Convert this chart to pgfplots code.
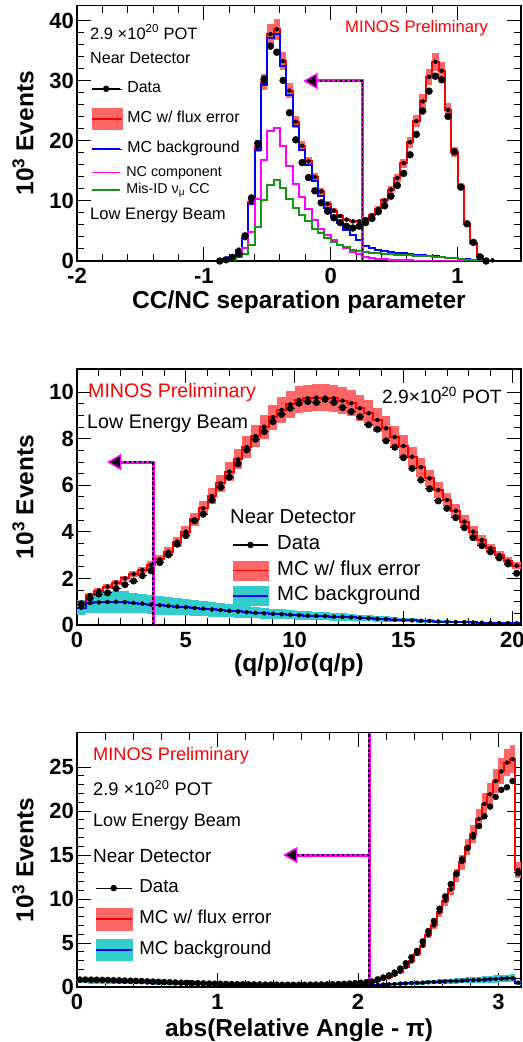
\documentclass[border=0pt]{standalone}
\usepackage{pgfplots}
\pgfplotsset{compat=1.18}
\usepackage{pgfplotstable}
\usepackage{fontspec}
\setmainfont{Liberation Sans}

\definecolor{bandred}{RGB}{255,102,102}
\definecolor{cyanband}{RGB}{51,204,204}
\definecolor{rgreen}{RGB}{20,150,20}
\definecolor{rblue}{RGB}{0,0,255}
\definecolor{rmag}{RGB}{255,0,255}

% Panel 1: CC/NC separation parameter (x = left bin edge, width 0.05)
\pgfplotstableread{
x d mc e b nc cc
-0.90 0.0 0.1 0.01 0.1 0.05 0.05
-0.85 0.2 0.3 0.01 0.25 0.1 0.1
-0.80 0.6 0.7 0.03 0.6 0.3 0.2
-0.75 1.2 1.9 0.09 1.8 0.8 0.6
-0.70 4.2 3.8 0.17 3.6 2.1 1.1
-0.65 10.5 9.9 0.45 9.5 4.8 2.7
-0.60 19.6 19.0 0.86 18.5 10.4 5.7
-0.55 30.3 29.8 1.34 29.3 16.8 10.2
-0.50 35.8 37.8 1.70 37.1 21.6 12.6
-0.45 34.8 38.6 1.74 37.8 22.2 13.5
-0.40 30.1 33.3 1.50 32.5 19.2 12.1
-0.35 24.7 28.4 1.28 27.7 15.9 10.4
-0.30 20.2 23.2 1.04 22.5 12.9 8.8
-0.25 16.4 19.2 0.86 18.5 10.7 7.7
-0.20 13.9 16.6 0.75 16.0 8.6 6.6
-0.15 11.7 14.0 0.63 13.3 6.8 5.4
-0.10 9.7 11.6 0.52 10.9 5.3 4.6
-0.05 8.3 9.5 0.43 8.8 4.3 3.9
0.00 7.2 8.4 0.38 7.5 3.5 3.2
0.05 6.4 7.5 0.34 6.3 2.7 2.7
0.10 5.8 6.9 0.31 5.2 2.1 2.3
0.15 5.5 6.6 0.30 4.3 1.55 1.9
0.20 5.8 6.6 0.30 3.5 1.1 1.7
0.25 6.4 7.0 0.32 2.5 0.7 1.5
0.30 7.1 7.6 0.34 2.1 0.5 1.4
0.35 8.2 8.7 0.39 1.8 0.35 1.3
0.40 9.2 10.1 0.45 1.6 0.25 1.2
0.45 10.8 11.9 0.54 1.45 0.2 1.1
0.50 12.6 13.8 0.62 1.35 0.15 1.05
0.55 14.6 16.3 0.73 1.25 0.12 1.0
0.60 17.7 19.8 0.89 1.15 0.1 0.95
0.65 21.1 23.3 1.05 1.05 0.08 0.9
0.70 25.0 26.6 1.20 0.95 0.07 0.85
0.75 28.3 30.7 1.38 0.85 0.06 0.78
0.80 30.8 33.2 1.49 0.75 0.05 0.7
0.85 30.2 31.7 1.43 0.65 0.05 0.6
0.90 24.1 25.2 1.13 0.55 0.04 0.5
0.95 18.2 18.2 0.82 0.45 0.03 0.42
1.00 12.3 12.5 0.56 0.35 0.03 0.32
1.05 6.2 6.2 0.28 0.25 0.02 0.22
1.10 3.1 3.0 0.14 0.15 0.02 0.13
1.15 0.7 0.8 0.04 0.08 0.01 0.07
1.20 0.0 0.1 0.01 0.03 0.0 0.03
1.25 nan 0.1 0.0 0.03 0.0 0.03
}\tabA

% Panel 2: (q/p)/sigma(q/p) (x = left bin edge, width 0.4)
\pgfplotstableread{
x d mc e b be
0.0 0.88 0.97 0.06 0.74 0.33
0.4 1.15 1.29 0.08 0.94 0.43
0.8 1.33 1.48 0.09 0.97 0.45
1.2 1.38 1.65 0.10 0.99 0.46
1.6 1.57 1.82 0.11 1.00 0.47
2.0 1.73 2.00 0.12 0.98 0.46
2.4 1.89 2.18 0.13 0.95 0.44
2.8 2.12 2.36 0.14 0.92 0.42
3.2 2.33 2.58 0.15 0.88 0.41
3.6 2.68 2.82 0.17 0.85 0.40
4.0 3.01 3.15 0.19 0.82 0.38
4.4 3.47 3.58 0.21 0.79 0.37
4.8 3.84 4.01 0.24 0.76 0.35
5.2 4.48 4.54 0.27 0.73 0.34
5.6 4.76 5.01 0.30 0.70 0.33
6.0 5.37 5.54 0.33 0.67 0.31
6.4 5.92 6.09 0.37 0.64 0.30
6.8 6.35 6.59 0.40 0.61 0.28
7.2 6.92 7.12 0.43 0.58 0.27
7.6 7.52 7.64 0.46 0.55 0.26
8.0 7.98 8.12 0.49 0.52 0.24
8.4 8.31 8.52 0.51 0.50 0.23
8.8 8.74 8.93 0.54 0.48 0.22
9.2 9.05 9.24 0.55 0.46 0.21
9.6 9.31 9.48 0.57 0.44 0.20
10.0 9.53 9.67 0.58 0.42 0.20
10.4 9.60 9.74 0.58 0.40 0.19
10.8 9.56 9.77 0.59 0.39 0.18
11.2 9.70 9.77 0.59 0.38 0.18
11.6 9.56 9.74 0.58 0.36 0.17
12.0 9.34 9.64 0.58 0.35 0.16
12.4 9.17 9.53 0.57 0.33 0.15
12.8 8.95 9.31 0.56 0.31 0.14
13.2 8.60 9.10 0.55 0.29 0.13
13.6 8.41 8.81 0.53 0.27 0.12
14.0 7.91 8.45 0.51 0.25 0.12
14.4 7.64 8.07 0.48 0.23 0.11
14.8 7.19 7.69 0.46 0.21 0.10
15.2 6.73 7.23 0.43 0.20 0.09
15.6 6.23 6.78 0.41 0.18 0.08
16.0 5.85 6.30 0.38 0.17 0.08
16.4 5.33 5.80 0.35 0.15 0.07
16.8 5.01 5.37 0.32 0.14 0.06
17.2 4.61 4.91 0.29 0.13 0.06
17.6 4.18 4.44 0.27 0.12 0.05
18.0 3.75 4.01 0.24 0.11 0.05
18.4 3.41 3.65 0.22 0.10 0.04
18.8 3.14 3.30 0.20 0.09 0.04
19.2 2.88 3.01 0.18 0.08 0.04
19.6 2.62 2.75 0.17 0.08 0.04
20.0 2.22 2.55 0.15 0.07 0.03
20.4 nan 2.55 0.0 0.07 0.0
}\tabB

% Panel 3: abs(Relative Angle - pi) (x = left bin edge, width 0.04)
\pgfplotstableread{
x d mc e b be
0.00 0.85 0.80 0.05 0.70 0.30
0.04 0.85 0.80 0.05 0.70 0.30
0.08 0.84 0.80 0.05 0.69 0.30
0.12 0.83 0.79 0.05 0.68 0.30
0.16 0.82 0.78 0.05 0.67 0.30
0.20 0.80 0.77 0.05 0.66 0.29
0.24 0.78 0.75 0.05 0.64 0.28
0.28 0.76 0.73 0.04 0.62 0.27
0.32 0.74 0.71 0.04 0.60 0.27
0.36 0.72 0.69 0.04 0.58 0.26
0.40 0.70 0.67 0.04 0.56 0.25
0.44 0.68 0.65 0.04 0.54 0.24
0.48 0.65 0.63 0.04 0.52 0.23
0.52 0.62 0.60 0.04 0.50 0.22
0.56 0.60 0.58 0.03 0.48 0.21
0.60 0.57 0.55 0.03 0.46 0.20
0.64 0.55 0.53 0.03 0.44 0.20
0.68 0.52 0.50 0.03 0.42 0.19
0.72 0.50 0.48 0.03 0.40 0.18
0.76 0.48 0.46 0.03 0.38 0.17
0.80 0.46 0.44 0.03 0.37 0.17
0.84 0.44 0.42 0.03 0.35 0.16
0.88 0.42 0.40 0.02 0.34 0.15
0.92 0.40 0.38 0.02 0.33 0.15
0.96 0.38 0.37 0.02 0.32 0.14
1.00 0.37 0.36 0.02 0.31 0.14
1.04 0.35 0.34 0.02 0.30 0.14
1.08 0.34 0.33 0.02 0.29 0.13
1.12 0.33 0.32 0.02 0.28 0.13
1.16 0.32 0.31 0.02 0.27 0.12
1.20 0.31 0.30 0.02 0.26 0.12
1.24 0.30 0.29 0.02 0.25 0.11
1.28 0.29 0.28 0.02 0.25 0.11
1.32 0.28 0.27 0.02 0.24 0.11
1.36 0.27 0.27 0.02 0.24 0.11
1.40 0.27 0.26 0.02 0.23 0.10
1.44 0.26 0.26 0.02 0.23 0.10
1.48 0.26 0.25 0.02 0.22 0.10
1.52 0.26 0.25 0.02 0.22 0.10
1.56 0.26 0.25 0.02 0.22 0.10
1.60 0.26 0.25 0.02 0.22 0.10
1.64 0.27 0.26 0.02 0.22 0.10
1.68 0.28 0.27 0.02 0.22 0.10
1.72 0.29 0.28 0.02 0.22 0.10
1.76 0.30 0.29 0.02 0.22 0.10
1.80 0.32 0.30 0.02 0.22 0.10
1.84 0.34 0.32 0.02 0.23 0.10
1.88 0.37 0.34 0.02 0.23 0.10
1.92 0.40 0.37 0.02 0.23 0.10
1.96 0.44 0.40 0.02 0.23 0.10
2.00 0.49 0.44 0.03 0.23 0.10
2.04 0.55 0.50 0.03 0.22 0.10
2.08 0.62 0.55 0.03 0.22 0.10
2.12 0.87 0.70 0.04 0.25 0.11
2.16 1.08 0.90 0.05 0.28 0.13
2.20 1.32 1.10 0.07 0.31 0.14
2.24 1.64 1.38 0.08 0.34 0.15
2.28 2.10 1.72 0.10 0.38 0.17
2.32 2.70 2.25 0.14 0.41 0.18
2.36 3.38 2.90 0.17 0.44 0.20
2.40 4.10 3.75 0.23 0.47 0.21
2.44 5.18 4.70 0.28 0.50 0.23
2.48 6.35 5.90 0.35 0.53 0.24
2.52 7.50 7.00 0.42 0.56 0.25
2.56 8.90 8.50 0.51 0.59 0.27
2.60 10.3 9.80 0.59 0.63 0.28
2.64 11.7 11.1 0.67 0.66 0.30
2.68 12.9 12.7 0.76 0.69 0.31
2.72 14.5 14.2 0.85 0.72 0.32
2.76 15.8 15.9 0.95 0.75 0.34
2.80 17.1 17.4 1.04 0.78 0.35
2.84 18.3 19.1 1.15 0.81 0.36
2.88 19.4 20.8 1.25 0.84 0.38
2.92 20.5 21.9 1.31 0.88 0.40
2.96 21.6 23.4 1.40 0.91 0.41
3.00 22.4 24.5 1.47 0.94 0.42
3.04 22.7 25.5 1.53 0.97 0.44
3.08 23.4 25.9 1.55 1.00 0.45
3.12 12.95 13.3 0.90 0.50 0.23
3.16 nan 13.3 0.0 0.50 0.0
}\tabC

\pgfplotsset{
  rootaxis/.style={
    scale only axis, width=444bp, anchor=south west,
    axis line style={line width=1.6bp},
    tick align=inside,
    major tick length=14bp, minor tick length=7bp,
    tick style={line width=1bp, black},
    tick label style={font=\fontsize{22bp}{24bp}\selectfont\bfseries},
    xticklabel style={anchor=north, inner sep=0pt, yshift=-7bp},
    yticklabel style={anchor=east, inner sep=0pt, xshift=-3bp},
    label style={font=\fontsize{24.5bp}{28bp}\selectfont\bfseries},
    ylabel style={at={(axis description cs:-0.1216,0.5)}, anchor=center},
    xlabel style={at={(axis description cs:0.5,0)}, anchor=center},
    legend cell align=left,
  },
  hist/.style={const plot mark left, line width=2bp, forget plot},
  % flux band drawn as one box per bin: a vertical error bar as wide as the bin
  band/.style 2 args={only marks, mark=none, forget plot,
    error bars/.cd, y dir=both, y explicit, error mark=none,
    error bar style={line width=#2, draw=#1, line cap=butt}},
}
\tikzset{lbl/.style={anchor=west, inner sep=0pt, text depth=0pt}}

\begin{document}
\begin{tikzpicture}
\path[use as bounding box] (0,0) rectangle (523bp,1042bp);

% ================= Panel 1 =================
\begin{axis}[rootaxis, at={(77bp,781bp)}, height=255.3bp,
  xmin=-2, xmax=1.5, ymin=0, ymax=42.55,
  xtick={-2,-1,0,1}, xticklabels={-2,-1,0,1}, minor x tick num=4,
  ytick={0,10,20,30,40}, yticklabels={0,10,20,30,40}, minor y tick num=4,
  xlabel={CC/NC separation parameter}, ylabel={10\textsuperscript{3} Events},
  xlabel style={yshift=-41bp},
  legend style={draw=none, fill=none, inner sep=0pt, outer sep=0pt,
    at={(axis description cs:0.0338,0.557)}, anchor=west,
    row sep=15bp, column sep=5bp,
    nodes={inner sep=0pt, text height=11.5bp, text depth=3.5bp},
    font=\fontsize{15.9bp}{18bp}\selectfont},
]
\addplot[band={bandred}{6.45bp}] table[x expr=\thisrow{x}+0.025, y=mc, y error=e]{\tabA};
\addplot[red, hist] table[x=x, y=mc]{\tabA};
\addplot[rblue, hist] table[x=x, y=b]{\tabA};
\addplot[rmag, hist] table[x=x, y=nc]{\tabA};
\addplot[rgreen, hist] table[x=x, y=cc]{\tabA};
\addplot[only marks, mark=*, mark size=3.5bp, black, forget plot] table[x expr=\thisrow{x}+0.025, y=d]{\tabA};
% cut arrow
\addplot[rmag, line width=3bp, forget plot] coordinates {(0.25,0) (0.25,30) (-0.141,30)};
\addplot[black, line width=1.8bp, dash pattern=on 2.5bp off 2.5bp, forget plot] coordinates {(0.25,0) (0.25,30) (-0.141,30)};
\addplot[only marks, mark=triangle*, mark size=8bp, mark options={rotate=90, fill=black, draw=rmag, line width=1.5bp}, forget plot] coordinates {(-0.141,30)};
% texts
\node[lbl, font=\fontsize{16.5bp}{18bp}\selectfont] at (axis description cs:0.0293,0.897) {2.9 ×10\textsuperscript{20} POT};
\node[lbl, font=\fontsize{16.1bp}{18bp}\selectfont] at (axis description cs:0.0293,0.795) {Near Detector};
\node[lbl, font=\fontsize{16.6bp}{18bp}\selectfont] at (axis description cs:0.0293,0.184) {Low Energy Beam};
\node[lbl, red, font=\fontsize{16.7bp}{18bp}\selectfont] at (axis description cs:0.6036,0.920) {MINOS Preliminary};
% legend
\addlegendimage{legend image code/.code={\path (0bp,0bp) -- (30bp,0bp); \draw[overlay,black,line width=1.2bp] (0bp,0bp)--(28bp,0bp); \fill[overlay,black] (14bp,0bp) circle (3bp);}}
\addlegendentry{Data}
\addlegendimage{legend image code/.code={\path (0bp,0bp) -- (30bp,0bp); \fill[overlay,bandred] (0bp,-10.5bp) rectangle (30bp,10.5bp); \draw[overlay,red,line width=1.5bp] (0bp,0bp)--(30bp,0bp);}}
\addlegendentry{MC w/ flux error}
\addlegendimage{legend image code/.code={\path (0bp,0bp) -- (30bp,0bp); \draw[overlay,rblue,line width=1.6bp] (0bp,0bp)--(28bp,0bp);}}
\addlegendentry{MC background}
\end{axis}

% second legend block of panel 1
\begin{axis}[at={(77bp,781bp)}, anchor=south west, scale only axis, width=444bp, height=255.3bp,
  hide axis, xmin=0, xmax=1, ymin=0, ymax=1, legend cell align=left,
  legend style={draw=none, fill=none, inner sep=0pt, outer sep=0pt,
    at={(axis description cs:0.0338,0.312)}, anchor=west,
    row sep=4.5bp, column sep=6bp,
    nodes={inner sep=0pt, text height=10bp, text depth=3bp},
    font=\fontsize{14.3bp}{16bp}\selectfont},
]
\addplot[draw=none, forget plot] coordinates {(0,0) (1,1)};
\addlegendimage{legend image code/.code={\path (0bp,0bp) -- (28bp,0bp); \draw[overlay,rmag,line width=1.5bp] (0bp,0bp)--(28bp,0bp);}}
\addlegendentry{NC component}
\addlegendimage{legend image code/.code={\path (0bp,0bp) -- (28bp,0bp); \draw[overlay,rgreen,line width=1.5bp] (0bp,0bp)--(28bp,0bp);}}
\addlegendentry{Mis-ID ν\textsubscript{μ} CC}
\end{axis}

% ================= Panel 2 =================
\begin{axis}[rootaxis, at={(77bp,417bp)}, height=256bp,
  xmin=0, xmax=20.4, ymin=0, ymax=11,
  xtick={0,5,10,15,20}, xticklabels={0,5,10,15,20}, minor x tick num=4,
  ytick={0,2,4,6,8,10}, yticklabels={0,2,4,6,8,10}, minor y tick num=3,
  xlabel={(q/p)/σ(q/p)}, ylabel={10\textsuperscript{3} Events},
  xlabel style={yshift=-40bp},
  legend style={draw=none, fill=none, inner sep=0pt, outer sep=0pt,
    at={(axis description cs:0.351,0.213)}, anchor=west,
    row sep=7.5bp, column sep=9bp,
    nodes={inner sep=0pt, text height=14bp, text depth=4bp},
    font=\fontsize{20.3bp}{22bp}\selectfont},
]
\addplot[band={bandred}{8.8bp}] table[x expr=\thisrow{x}+0.2, y=mc, y error=e]{\tabB};
\addplot[band={cyanband}{8.8bp}] table[x expr=\thisrow{x}+0.2, y=b, y error=be]{\tabB};
\addplot[red, hist] table[x=x, y=mc]{\tabB};
\addplot[rblue, hist] table[x=x, y=b]{\tabB};
\addplot[only marks, mark=*, mark size=3.3bp, black, forget plot,
  error bars/.cd, x dir=both, x fixed=0.2, error mark=none,
  error bar style={line width=1bp, black}] table[x expr=\thisrow{x}+0.2, y=d]{\tabB};
% cut arrow
\addplot[rmag, line width=3bp, forget plot] coordinates {(3.5,0) (3.5,7) (1.82,7)};
\addplot[black, line width=1.8bp, dash pattern=on 2.5bp off 2.5bp, forget plot] coordinates {(3.5,0) (3.5,7) (1.82,7)};
\addplot[only marks, mark=triangle*, mark size=8bp, mark options={rotate=90, fill=black, draw=rmag, line width=1.5bp}, forget plot] coordinates {(1.82,7)};
% texts
\node[lbl, red, font=\fontsize{19.6bp}{22bp}\selectfont] at (axis description cs:0.0248,0.915) {MINOS Preliminary};
\node[lbl, font=\fontsize{19.7bp}{22bp}\selectfont] at (axis description cs:0.0225,0.793) {Low Energy Beam};
\node[anchor=east, inner sep=0pt, text depth=0pt, font=\fontsize{19.2bp}{22bp}\selectfont] at (axis description cs:0.957,0.898) {2.9×10\textsuperscript{20} POT};
\node[lbl, font=\fontsize{20.2bp}{22bp}\selectfont] at (axis description cs:0.3446,0.423) {Near Detector};
% legend
\addlegendimage{legend image code/.code={\path (0bp,0bp) -- (35bp,0bp); \draw[overlay,black,line width=1.2bp] (0bp,0bp)--(35bp,0bp); \fill[overlay,black] (17.5bp,0bp) circle (3bp);}}
\addlegendentry{Data}
\addlegendimage{legend image code/.code={\path (0bp,0bp) -- (35bp,0bp); \fill[overlay,bandred] (0bp,-9.5bp) rectangle (35bp,9.5bp); \draw[overlay,red,line width=1.5bp] (0bp,0bp)--(35bp,0bp);}}
\addlegendentry{MC w/ flux error}
\addlegendimage{legend image code/.code={\path (0bp,0bp) -- (35bp,0bp); \fill[overlay,cyanband] (0bp,-9.5bp) rectangle (35bp,9.5bp); \draw[overlay,rblue,line width=1.5bp] (0bp,0bp)--(35bp,0bp);}}
\addlegendentry{MC background}
\end{axis}

% ================= Panel 3 =================
\begin{axis}[rootaxis, at={(77bp,55bp)}, height=254.3bp,
  xmin=0, xmax=3.16, ymin=0, ymax=28.9,
  xtick={0,1,2,3}, xticklabels={0,1,2,3}, minor x tick num=4,
  ytick={0,5,10,15,20,25}, yticklabels={0,5,10,15,20,25}, minor y tick num=4,
  xlabel={abs(Relative Angle - π)}, ylabel={10\textsuperscript{3} Events},
  xlabel style={yshift=-43bp},
  legend style={draw=none, fill=none, inner sep=0pt, outer sep=0pt,
    at={(axis description cs:0.0428,0.267)}, anchor=west,
    row sep=14bp, column sep=7bp,
    nodes={inner sep=0pt, text height=13bp, text depth=4bp},
    font=\fontsize{18.7bp}{20bp}\selectfont},
]
\addplot[band={bandred}{5.7bp}] table[x expr=\thisrow{x}+0.02, y=mc, y error=e]{\tabC};
\addplot[band={cyanband}{5.7bp}] table[x expr=\thisrow{x}+0.02, y=b, y error=be]{\tabC};
\addplot[red, hist] table[x=x, y=mc]{\tabC};
\addplot[rblue, hist] table[x=x, y=b]{\tabC};
\addplot[only marks, mark=*, mark size=3bp, black, forget plot] table[x expr=\thisrow{x}+0.02, y=d]{\tabC};
% cut arrow
\addplot[rmag, line width=3bp, forget plot] coordinates {(2.08,0) (2.08,28.9)};
\addplot[black, line width=1.8bp, dash pattern=on 2.5bp off 2.5bp, forget plot] coordinates {(2.08,0) (2.08,28.9)};
\addplot[rmag, line width=3bp, forget plot] coordinates {(2.08,15) (1.535,15)};
\addplot[black, line width=1.8bp, dash pattern=on 2.5bp off 2.5bp, forget plot] coordinates {(2.08,15) (1.535,15)};
\addplot[only marks, mark=triangle*, mark size=8bp, mark options={rotate=90, fill=black, draw=rmag, line width=1.5bp}, forget plot] coordinates {(1.535,15)};
% texts
\node[lbl, red, font=\fontsize{18.2bp}{20bp}\selectfont] at (axis description cs:0.036,0.916) {MINOS Preliminary};
\node[lbl, font=\fontsize{18.3bp}{20bp}\selectfont] at (axis description cs:0.036,0.7825) {2.9 ×10\textsuperscript{20} POT};
\node[lbl, font=\fontsize{18.1bp}{20bp}\selectfont] at (axis description cs:0.036,0.657) {Low Energy Beam};
\node[lbl, font=\fontsize{19bp}{21bp}\selectfont] at (axis description cs:0.036,0.516) {Near Detector};
% legend
\addlegendimage{legend image code/.code={\path (0bp,0bp) -- (36bp,0bp); \draw[overlay,black,line width=1.2bp] (0bp,0bp)--(35bp,0bp); \fill[overlay,black] (17.5bp,0bp) circle (3bp);}}
\addlegendentry{Data}
\addlegendimage{legend image code/.code={\path (0bp,0bp) -- (36bp,0bp); \fill[overlay,bandred] (0bp,-11bp) rectangle (36bp,11bp); \draw[overlay,red,line width=1.5bp] (0bp,0bp)--(36bp,0bp);}}
\addlegendentry{MC w/ flux error}
\addlegendimage{legend image code/.code={\path (0bp,0bp) -- (36bp,0bp); \fill[overlay,cyanband] (0bp,-10.5bp) rectangle (36bp,10.5bp); \draw[overlay,rblue,line width=1.5bp] (0bp,0bp)--(36bp,0bp);}}
\addlegendentry{MC background}
\end{axis}
\end{tikzpicture}
\end{document}
